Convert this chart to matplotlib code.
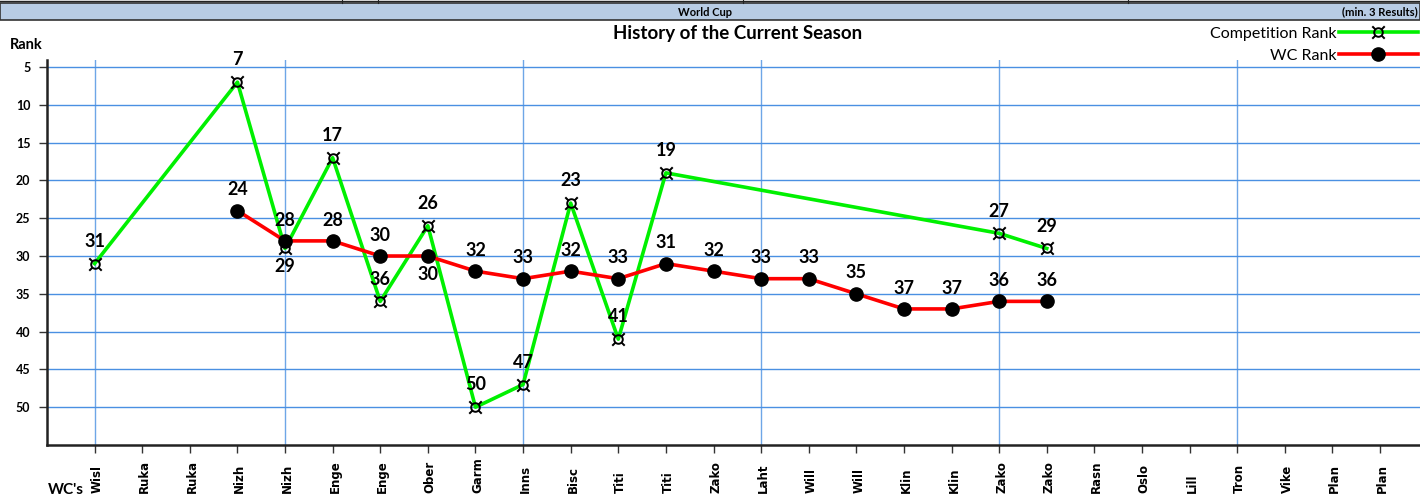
import matplotlib
matplotlib.use("Agg")
import matplotlib.pyplot as plt
from matplotlib.patches import Rectangle
from matplotlib.lines import Line2D

# --- data ---
venues = ["Wisl", "Ruka", "Ruka", "Nizh", "Nizh", "Enge", "Enge", "Ober", "Garm", "Inns",
          "Bisc", "Titi", "Titi", "Zako", "Laht", "Will", "Will", "Klin", "Klin", "Zako",
          "Zako", "Rasn", "Oslo", "Lill", "Tron", "Vike", "Plan", "Plan"]

comp_idx = [0, 3, 4, 5, 6, 7, 8, 9, 10, 11, 12, 19, 20]
comp_rank = [31, 7, 29, 17, 36, 26, 50, 47, 23, 41, 19, 27, 29]

wc_idx = [3, 4, 5, 6, 7, 8, 9, 10, 11, 12, 13, 14, 15, 16, 17, 18, 19, 20]
wc_rank = [24, 28, 28, 30, 30, 32, 33, 32, 33, 31, 32, 33, 33, 35, 37, 37, 36, 36]

yticks = [5, 10, 15, 20, 25, 30, 35, 40, 45, 50]
vgrid_idx = [0, 4, 9, 14, 19, 24]

# category positions whose label sits under the point
comp_below = {4}
wc_below = {7}

GREEN = "#00f000"
RED = "#ff0000"
GRID = "#4a90e2"
LABEL_FONT = "Lato"

fig = plt.figure(figsize=(14.2, 4.99), dpi=100)
ax = fig.add_axes([47 / 1420, 54 / 499, 1 - 47 / 1420, 385 / 499])

ax.set_xlim(-1, 27.84)
ax.set_ylim(55.0, 4.07)

ax.set_yticks(yticks)
ax.set_yticklabels([str(v) for v in yticks], fontsize=9, fontweight="bold", family=LABEL_FONT)
ax.yaxis.grid(True, color=GRID, linewidth=1.0)
for gx in vgrid_idx:
    ax.axvline(gx, color=GRID, linewidth=1.0, alpha=0.8, zorder=0)
ax.set_axisbelow(True)

ax.set_xticks(range(len(venues)))
ax.set_xticklabels([])
for i, name in enumerate(venues):
    ax.text(i + 0.05, -0.125, name, transform=ax.get_xaxis_transform(), rotation=90,
            ha="center", va="bottom", fontsize=8.5, fontweight="bold")

ax.tick_params(axis="both", direction="out", length=6, width=1, color="#333333")
ax.tick_params(axis="y", pad=6)
for side in ("top", "right"):
    ax.spines[side].set_visible(False)
for side in ("left", "bottom"):
    ax.spines[side].set_linewidth(1.8)
    ax.spines[side].set_color("#222222")

ax.plot(comp_idx, comp_rank, color=GREEN, linewidth=2.6, marker="$¤$", markersize=10,
        markeredgewidth=0, markerfacecolor="black", zorder=3, label="Competition Rank")
ax.plot(wc_idx, wc_rank, color=RED, linewidth=2.6, marker="o", markersize=9.5,
        markerfacecolor="black", markeredgecolor="black", zorder=4, label="WC Rank")

for i, v in zip(comp_idx, comp_rank):
    dy = -13 if i in comp_below else 16
    ax.annotate(str(v), (i, v), xytext=(0, dy), textcoords="offset points", ha="center",
                va="center", fontsize=13, fontweight="bold", family=LABEL_FONT, zorder=5)
for i, v in zip(wc_idx, wc_rank):
    dy = -13 if i in wc_below else 15
    ax.annotate(str(v), (i, v), xytext=(0, dy), textcoords="offset points", ha="center",
                va="center", fontsize=13, fontweight="bold", family=LABEL_FONT, zorder=5)

ax.legend(loc="upper right", bbox_to_anchor=(1.0, 1 - 25 / 499), bbox_transform=fig.transFigure,
          markerfirst=False, frameon=False, handlelength=5.0, handletextpad=0.1,
          labelspacing=0.5, borderpad=0.1, borderaxespad=0,
          prop={"family": LABEL_FONT, "size": 11.5})

# header strip
fig.add_artist(Line2D([0, 1], [1 - 1 / 499, 1 - 1 / 499], transform=fig.transFigure,
                      color="#222222", linewidth=1.0))
for mx in (342, 378, 743, 1128):
    fig.add_artist(Line2D([mx / 1420, mx / 1420], [1 - 3 / 499, 1.0], transform=fig.transFigure,
                          color="#222222", linewidth=0.8))
fig.add_artist(Rectangle((0, 1 - 20 / 499), 1, 17 / 499, transform=fig.transFigure,
                         facecolor="#b8cce4", edgecolor="#333333", linewidth=1.2))
fig.text(705 / 1420, 1 - 12 / 499, "World Cup", ha="center", va="center",
         fontsize=8, fontweight="bold", family=LABEL_FONT)
fig.text(1418 / 1420, 1 - 12 / 499, "(min. 3 Results)", ha="right", va="center",
         fontsize=8, fontweight="bold", family=LABEL_FONT)

fig.text(738 / 1420, 1 - 33 / 499, "History of the Current Season", ha="center", va="center",
         fontsize=13.5, fontweight="bold", family=LABEL_FONT)
fig.text(10 / 1420, 1 - 45 / 499, "Rank", ha="left", va="center",
         fontsize=10.5, fontweight="bold", family=LABEL_FONT)
fig.text(48 / 1420, 1 - 490 / 499, "WC's", ha="left", va="center",
         fontsize=11, fontweight="bold", family=LABEL_FONT)

fig.savefig("out.png", dpi=100)
